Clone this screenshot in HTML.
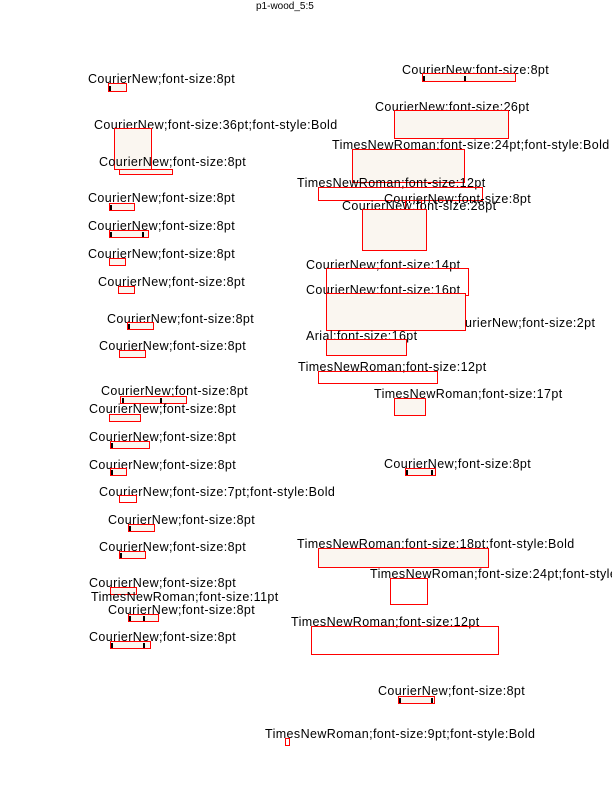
<!DOCTYPE html>
<html><head><meta charset="utf-8"><style>
body{margin:0;width:612px;height:792px;background:#fff;position:relative;overflow:hidden}
.l{position:absolute;font:12.5px/12px "Liberation Sans",sans-serif;letter-spacing:0.4px;white-space:nowrap;color:#000;margin-top:1px}
.b{position:absolute;border:1px solid #f00;background:#faf6f0;box-sizing:border-box}
.m{position:absolute;background:#000;width:2px;height:5px}
</style></head><body>
<div class="l" style="left:256px;top:0px;font-size:10px;letter-spacing:0">p1-wood_5:5</div>

<div class="l" style="left:88px;top:72px">CourierNew;font-size:8pt</div>
<div class="b" style="left:108px;top:83px;width:19px;height:9px"></div><div class="m" style="left:109px;top:86px"></div>
<div class="l" style="left:94px;top:118px">CourierNew;font-size:36pt;font-style:Bold</div>
<div class="b" style="left:114px;top:128px;width:38px;height:42px"></div>
<div class="l" style="left:99px;top:155px">CourierNew;font-size:8pt</div>
<div class="b" style="left:119px;top:169px;width:54px;height:6px"></div>
<div class="l" style="left:88px;top:191px">CourierNew;font-size:8pt</div>
<div class="b" style="left:109px;top:203px;width:26px;height:8px"></div><div class="m" style="left:110px;top:205px"></div>
<div class="l" style="left:88px;top:219px">CourierNew;font-size:8pt</div>
<div class="b" style="left:109px;top:230px;width:40px;height:8px"></div><div class="m" style="left:110px;top:232px"></div><div class="m" style="left:142px;top:232px"></div>
<div class="l" style="left:88px;top:247px">CourierNew;font-size:8pt</div>
<div class="b" style="left:109px;top:258px;width:17px;height:8px"></div>
<div class="l" style="left:98px;top:275px">CourierNew;font-size:8pt</div>
<div class="b" style="left:118px;top:286px;width:17px;height:8px"></div>
<div class="l" style="left:107px;top:312px">CourierNew;font-size:8pt</div>
<div class="b" style="left:127px;top:322px;width:27px;height:8px"></div><div class="m" style="left:128px;top:324px"></div>
<div class="l" style="left:99px;top:339px">CourierNew;font-size:8pt</div>
<div class="b" style="left:119px;top:350px;width:27px;height:8px"></div>
<div class="l" style="left:101px;top:384px">CourierNew;font-size:8pt</div>
<div class="b" style="left:120px;top:396px;width:67px;height:8px"></div><div class="m" style="left:122px;top:398px"></div><div class="m" style="left:160px;top:398px"></div>
<div class="l" style="left:89px;top:402px">CourierNew;font-size:8pt</div>
<div class="b" style="left:109px;top:414px;width:32px;height:8px"></div>
<div class="l" style="left:89px;top:430px">CourierNew;font-size:8pt</div>
<div class="b" style="left:110px;top:441px;width:40px;height:8px"></div><div class="m" style="left:111px;top:443px"></div>
<div class="l" style="left:89px;top:458px">CourierNew;font-size:8pt</div>
<div class="b" style="left:110px;top:468px;width:17px;height:8px"></div><div class="m" style="left:111px;top:470px"></div>
<div class="l" style="left:99px;top:485px">CourierNew;font-size:7pt;font-style:Bold</div>
<div class="b" style="left:119px;top:495px;width:18px;height:8px;background:none"></div>
<div class="l" style="left:108px;top:513px">CourierNew;font-size:8pt</div>
<div class="b" style="left:128px;top:524px;width:27px;height:8px"></div><div class="m" style="left:129px;top:526px"></div>
<div class="l" style="left:99px;top:540px">CourierNew;font-size:8pt</div>
<div class="b" style="left:119px;top:551px;width:27px;height:8px"></div><div class="m" style="left:120px;top:553px"></div>
<div class="l" style="left:89px;top:576px">CourierNew;font-size:8pt</div>
<div class="b" style="left:110px;top:587px;width:27px;height:8px"></div>
<div class="l" style="left:91px;top:590px">TimesNewRoman;font-size:11pt</div>
<div class="l" style="left:108px;top:603px">CourierNew;font-size:8pt</div>
<div class="b" style="left:128px;top:614px;width:31px;height:8px"></div><div class="m" style="left:129px;top:616px"></div><div class="m" style="left:143px;top:616px"></div>
<div class="l" style="left:89px;top:630px">CourierNew;font-size:8pt</div>
<div class="b" style="left:110px;top:641px;width:41px;height:8px"></div><div class="m" style="left:111px;top:643px"></div><div class="m" style="left:143px;top:643px"></div>

<div class="l" style="left:402px;top:63px">CourierNew;font-size:8pt</div>
<div class="b" style="left:422px;top:73px;width:94px;height:9px"></div><div class="m" style="left:423px;top:76px"></div><div class="m" style="left:464px;top:76px"></div>
<div class="l" style="left:375px;top:100px">CourierNew;font-size:26pt</div>
<div class="b" style="left:394px;top:110px;width:115px;height:29px"></div>
<div class="l" style="left:332px;top:138px">TimesNewRoman;font-size:24pt;font-style:Bold</div>
<div class="b" style="left:352px;top:149px;width:113px;height:34px"></div>
<div class="l" style="left:297px;top:176px">TimesNewRoman;font-size:12pt</div>
<div class="b" style="left:318px;top:187px;width:165px;height:14px;background:none"></div>
<div class="l" style="left:384px;top:192px">CourierNew;font-size:8pt</div>
<div class="b" style="left:405px;top:200px;width:17px;height:10px;background:none"></div>
<div class="l" style="left:342px;top:199px">CourierNew;font-size:28pt</div>
<div class="b" style="left:362px;top:209px;width:65px;height:42px"></div>
<div class="l" style="left:306px;top:258px">CourierNew;font-size:14pt</div>
<div class="b" style="left:326px;top:268px;width:143px;height:28px;background:none"></div>
<div class="l" style="left:306px;top:283px">CourierNew;font-size:16pt</div>
<div class="b" style="left:326px;top:293px;width:140px;height:38px"></div>
<div class="l" style="left:465px;top:316px">urierNew;font-size:2pt</div>
<div class="l" style="left:306px;top:329px">Arial;font-size:16pt</div>
<div class="b" style="left:326px;top:339px;width:81px;height:17px"></div>
<div class="l" style="left:298px;top:360px">TimesNewRoman;font-size:12pt</div>
<div class="b" style="left:318px;top:371px;width:120px;height:13px;background:none"></div>
<div class="l" style="left:374px;top:387px">TimesNewRoman;font-size:17pt</div>
<div class="b" style="left:394px;top:398px;width:32px;height:18px"></div>
<div class="l" style="left:384px;top:457px">CourierNew;font-size:8pt</div>
<div class="b" style="left:405px;top:468px;width:31px;height:8px"></div><div class="m" style="left:406px;top:470px"></div><div class="m" style="left:431px;top:470px"></div>
<div class="l" style="left:297px;top:537px">TimesNewRoman;font-size:18pt;font-style:Bold</div>
<div class="b" style="left:318px;top:548px;width:171px;height:20px"></div>
<div class="l" style="left:370px;top:567px">TimesNewRoman;font-size:24pt;font-style:Bold</div>
<div class="b" style="left:390px;top:578px;width:38px;height:27px;background:none"></div>
<div class="l" style="left:291px;top:615px">TimesNewRoman;font-size:12pt</div>
<div class="b" style="left:311px;top:626px;width:188px;height:29px;background:none"></div>
<div class="l" style="left:378px;top:684px">CourierNew;font-size:8pt</div>
<div class="b" style="left:398px;top:696px;width:37px;height:8px"></div><div class="m" style="left:399px;top:698px"></div><div class="m" style="left:431px;top:698px"></div>
<div class="l" style="left:265px;top:727px">TimesNewRoman;font-size:9pt;font-style:Bold</div>
<div class="b" style="left:285px;top:738px;width:5px;height:8px;background:none"></div>
</body></html>
